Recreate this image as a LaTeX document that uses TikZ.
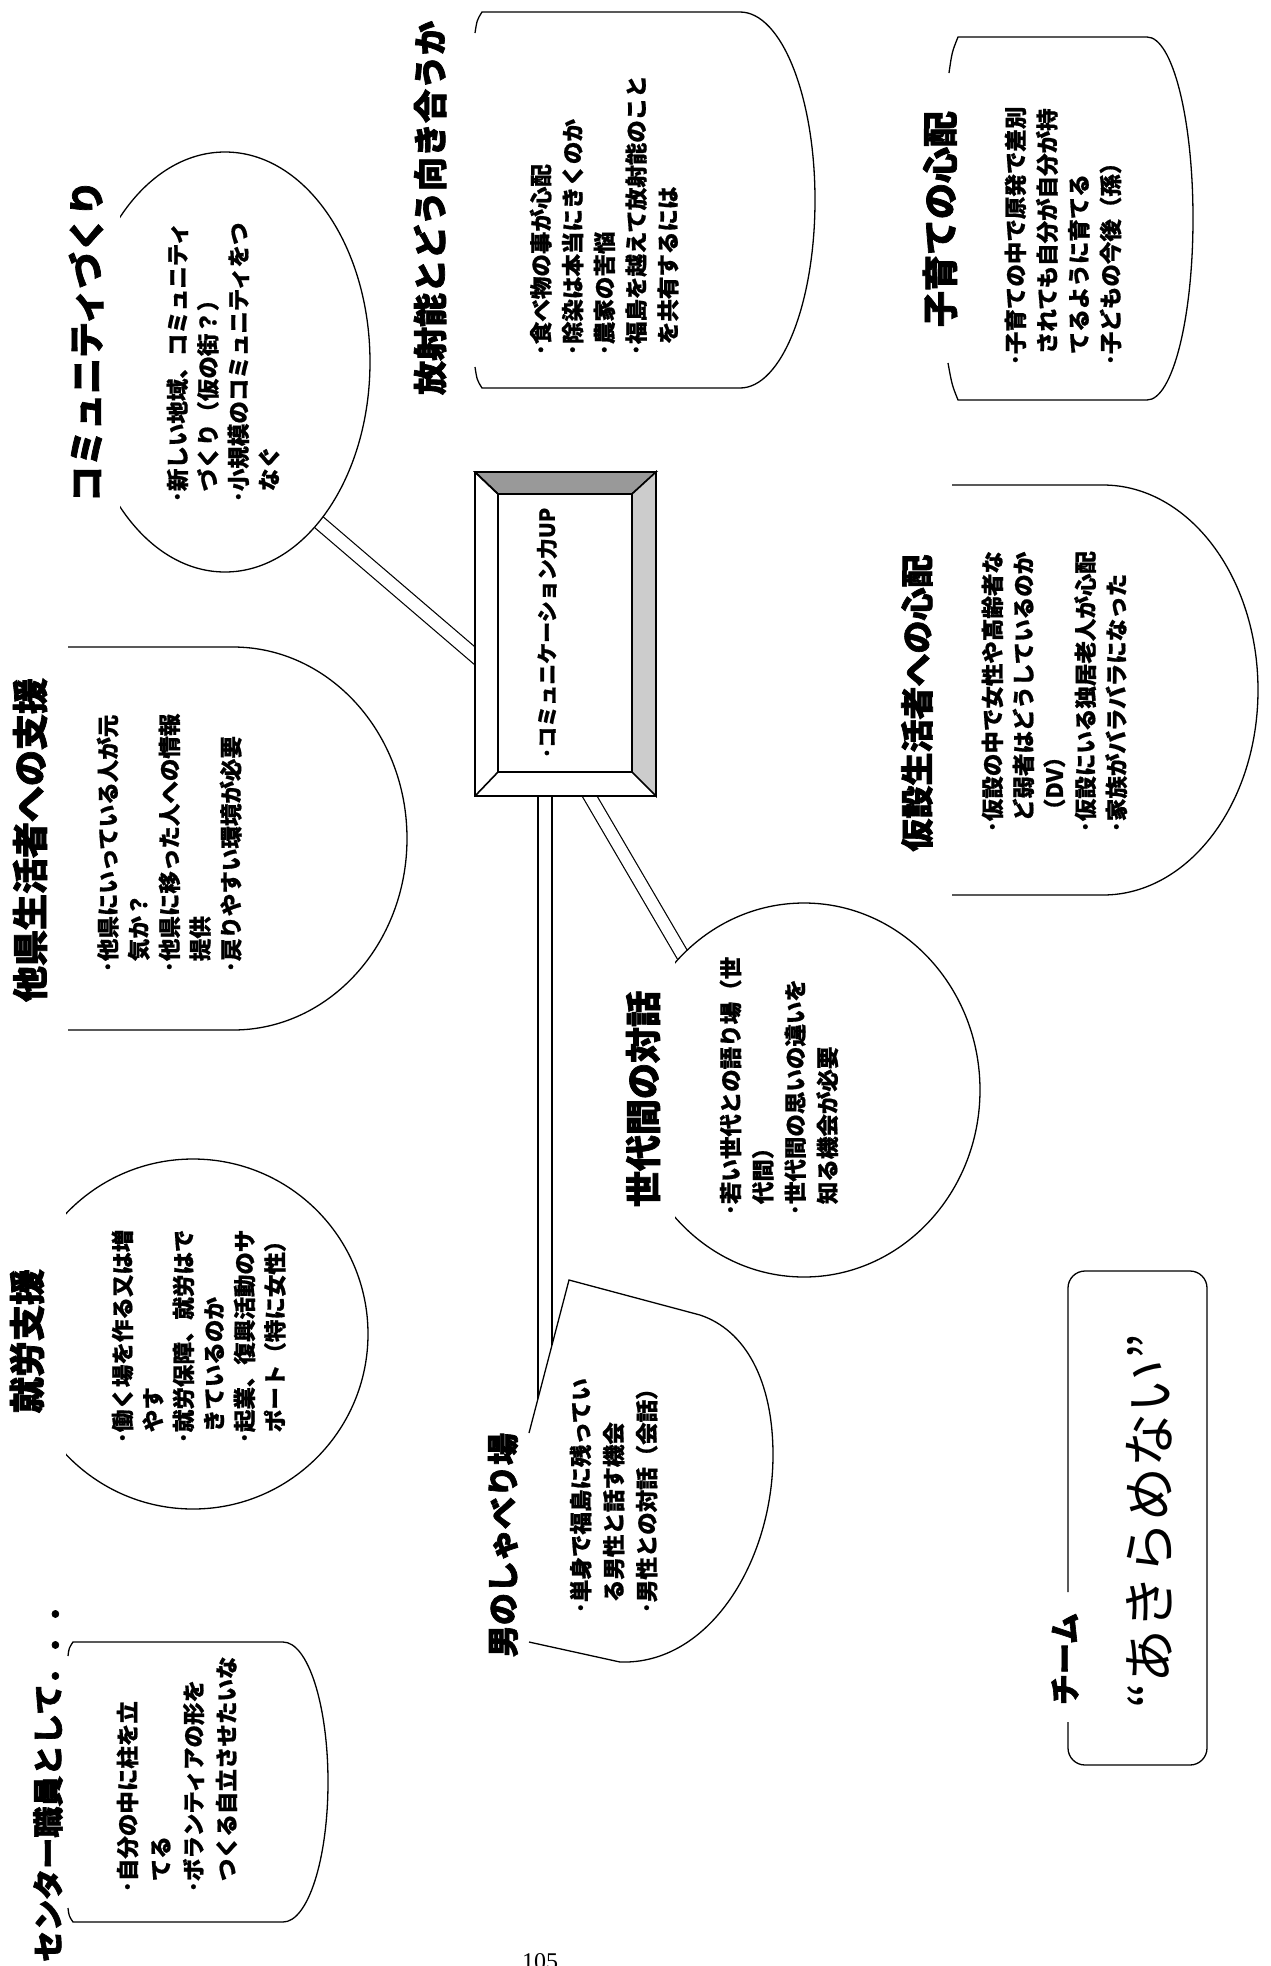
\documentclass[tikz,border=0pt]{standalone}
\usepackage{fontspec}
\setmainfont{Liberation Serif}
\newfontfamily\jp{Noto Sans CJK JP}
\newfontfamily\jpt{Noto Sans CJK JP}[BoldFeatures={FakeBold=2}]
\newfontfamily\jpb{Noto Sans CJK JP}[BoldFeatures={FakeBold=0.8}]
\begin{document}
\begin{tikzpicture}[x=1pt,y=-1pt,line width=1.3pt,
  conn/.style={draw=black, double=white, double distance=#1, line width=1.2pt},
  ttl/.style={rotate=90, inner sep=0pt, font=\jpt\bfseries\fontsize{#1}{#1}\selectfont},
  bodytext/.style={rotate=90, anchor=north west, align=left, inner sep=0pt, font=\jpb\bfseries\fontsize{22.5}{#1}\selectfont},
  shp/.style={draw=black, line width=1.3pt}]
\useasboundingbox (0,0) rectangle (1271,1966);
\clip (0,0) rectangle (1271,1966);
\fill[white] (0,0) rectangle (1271,1966);

% ---------- connector end points ----------
\coordinate (kA) at (500,677.4);
\coordinate (kB) at (300,506);
\coordinate (vA) at (545,780);
\coordinate (vB) at (545,1420);
\coordinate (dA) at (572,766);
\coordinate (dB) at (706.5,996);

% ---------- connectors ----------
\draw[conn=12.4] (kA) -- (kB);
\draw[conn=12.7] (vA) -- (vB);
\draw[conn=11.6] (dA) -- (dB);

% ---------- shapes ----------
% community
\begin{scope}
  \clip (120,0) rectangle (1271,1966);
  \filldraw[shp, fill=white] (225,362) ellipse [x radius=145pt, y radius=210pt];
\end{scope}
% shuro
\begin{scope}
  \clip (66,0) rectangle (1271,1966);
  \draw[shp] (193,1334) circle [radius=175pt];
\end{scope}
% sedai
\begin{scope}
  \clip (675,0) rectangle (1271,1966);
  \filldraw[shp, fill=white] (804,1090) ellipse [x radius=176pt, y radius=187pt];
\end{scope}
% otoko
\fill[white] (529,1433) -- (569,1280) -- (700,1315) .. controls (745,1330) and (773,1380) .. (773,1455) .. controls (773,1560) and (710,1665) .. (620,1662) -- (529,1642) -- cycle;
\draw[shp] (529,1433) -- (569,1280) -- (700,1315) .. controls (745,1330) and (773,1380) .. (773,1455) .. controls (773,1560) and (710,1665) .. (620,1662) -- (529,1642);
% center staff
\draw[shp] (68,1656) .. controls (69,1648) .. (73,1642) -- (283,1642) .. controls (307.9,1642) and (328,1704.7) .. (328,1782) .. controls (328,1859.3) and (307.9,1922) .. (283,1922) -- (73,1922) .. controls (69,1916) .. (68,1908);
% taken
\draw[shp] (68,647) -- (233,647) .. controls (329.1,647) and (407,732.7) .. (407,838.5) .. controls (407,944.3) and (329.1,1030) .. (233,1030) -- (68,1030);
% hoshano
\draw[shp] (475,33) .. controls (477,20) .. (482,12) -- (740,12) .. controls (781.4,12) and (815,96.2) .. (815,200) .. controls (815,303.8) and (781.4,388) .. (740,388) -- (482,388) .. controls (477,380) .. (475,367);
% kosodate
\draw[shp] (949,73) .. controls (952,52) .. (958,37) -- (1147,37) .. controls (1172.4,37) and (1193,118.3) .. (1193,218.5) .. controls (1193,318.7) and (1172.4,400) .. (1147,400) -- (958,400) .. controls (952,385) .. (948,363);
% kasetsu
\draw[shp] (952,485) -- (1103,485) .. controls (1188.6,485) and (1258,576.8) .. (1258,690) .. controls (1258,803.2) and (1188.6,895) .. (1103,895) -- (952,895);
% team box
\draw[shp, rounded corners=17pt] (1068,1592) -- (1068,1271) -- (1207,1271) -- (1207,1765) -- (1068,1765) -- (1068,1722);

% ---------- centre box ----------
\node[draw, line width=1.6pt, fill=white, minimum width=181pt, minimum height=324pt, inner sep=0pt] (box) at (565.5,634) {};
\filldraw[fill=black!40, line width=1.6pt] (475,472) -- (656,472) -- (632,494) -- (498,494) -- cycle;
\filldraw[fill=black!20, line width=1.6pt] (656,472) -- (656,796) -- (632,772) -- (632,494) -- cycle;
\draw[line width=1.6pt] (475,472) -- (498,494) (475,796) -- (498,772);
\draw[line width=1.6pt] (498,494) rectangle (632,772);
\draw[line width=1.6pt] (475,472) rectangle (656,796);
\node[rotate=90, inner sep=0pt, font=\jpb\bfseries\fontsize{21}{21}\selectfont] (boxtext) at (547,633) {･コミュニケーション力UP};

% ---------- titles ----------
\node[ttl=31] (tCenter) at (48,1777) {センター職員として．．．};
\node[ttl=36] (tShuro) at (27,1341) {就労支援};
\node[ttl=36] (tTaken) at (30,840) {他県生活者への支援};
\node[ttl=36] (tComm) at (86,341) {コミュニティづくり};
\node[ttl=34] (tHosha) at (430,208) {放射能とどう向き合うか};
\node[ttl=36] (tKosodate) at (940,219) {子育ての心配};
\node[ttl=33] (tKasetsu) at (917,703) {仮設生活者への心配};
\node[ttl=36] (tSedai) at (643,1099) {世代間の対話};
\node[ttl=32] (tOtoko) at (503,1545) {男のしゃべり場};
\node[ttl=31] (tTeam) at (1065,1659) {チーム};
\node[rotate=90, inner sep=0pt, font=\jp\fontsize{54}{54}\selectfont] (akira) at (1150,1521) {“あきらめない”};

% ---------- body texts ----------
\node[bodytext=33] (bCenter) at (116,1893) {･自分の中に柱を立\\\phantom{･}てる\\･ボランティアの形を\\\phantom{･}つくる自立させたいな};
\node[bodytext=30.5] (bShuro) at (111,1444) {･働く場を作る又は増\\\phantom{･}やす\\･就労保障、就労はで\\\phantom{･}きているのか\\･起業、復興活動のサ\\\phantom{･}ポート（特に女性）};
\node[bodytext=30.75] (bTaken) at (96,973) {･他県にいっている人が元\\\phantom{･}気か？\\･他県に移った人への情報\\\phantom{･}提供\\･戻りやすい環境が必要};
\node[bodytext=30.5] (bComm) at (166,503) {･新しい地域、コミュニティ\\\phantom{･}づくり（仮の街？）\\･小規模のコミュニティをつ\\\phantom{･}なぐ};
\node[bodytext=31.75] (bHosha) at (529,356) {･食べ物の事が心配\\･除染は本当にきくのか\\･農家の苦悩\\･福島を越えて放射能のこと\\\phantom{･}を共有するには};
\node[bodytext=31.7] (bKosodate) at (1004,366) {･子育ての中で原発で差別\\\phantom{･}されても自分が自分が持\\\phantom{･}てるように育てる\\･子どもの今後（孫）};
\node[bodytext=31] (bKasetsu) at (981,833) {･仮設の中で女性や高齢者な\\\phantom{･}ど弱者はどうしているのか\\\phantom{･}（DV）\\･仮設にいる独居老人が心配\\･家族がバラバラになった};
\node[bodytext=32.3] (bSedai) at (719,1216) {･若い世代との語り場（世\\\phantom{･}代間）\\･世代間の思いの違いを\\\phantom{･}知る機会が必要};
\node[bodytext=33] (bOtoko) at (569,1614) {･単身で福島に残ってい\\\phantom{･}る男性と話す機会\\･男性との対話（会話）};

% ---------- page number ----------
\node[anchor=north, inner sep=0pt, font=\fontsize{24}{24}\selectfont] (pg) at (540,1953) {105};
\end{tikzpicture}
\end{document}
